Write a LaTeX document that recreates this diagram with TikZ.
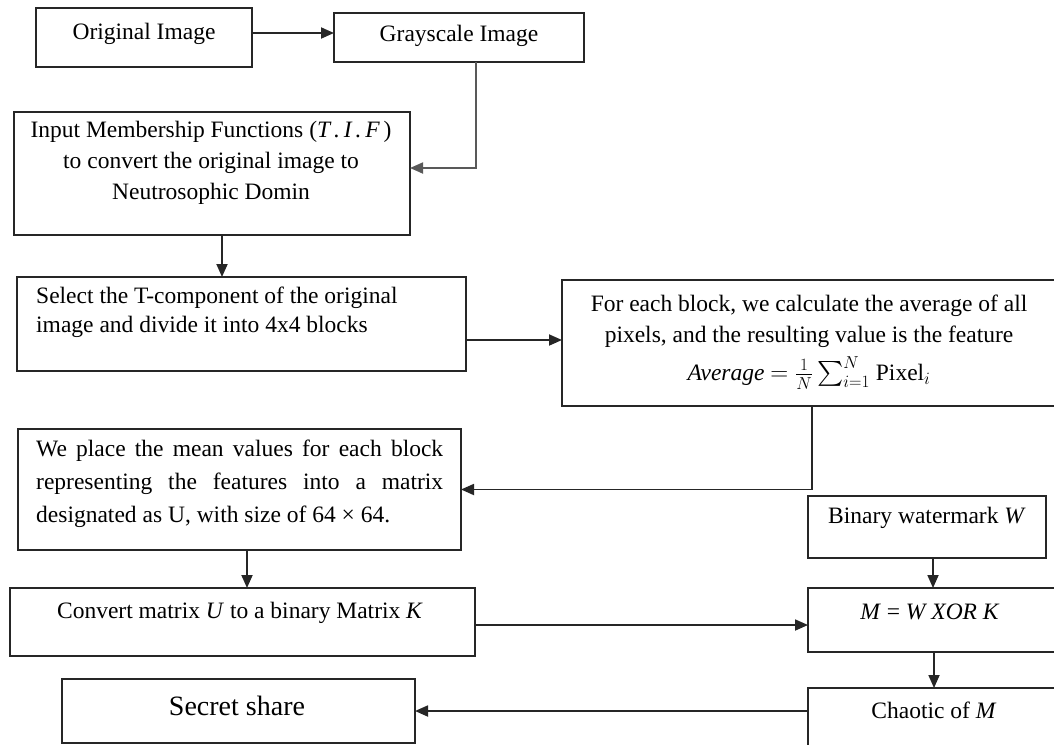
\documentclass[tikz,border=0pt]{standalone}
\usepackage{amsmath}
\usepackage{fontspec}
\setmainfont{Liberation Serif}
\usetikzlibrary{arrows.meta,calc}
\begin{document}
\begin{tikzpicture}[x=1pt,y=-1pt,
  box/.style={draw=black!85, line width=1.8pt, inner sep=0pt, outer sep=0pt, anchor=north west},
  txt/.style={inner sep=0pt, align=center, font=\fontsize{23.5}{31}\selectfont},
  arr/.style={draw=black!85, line width=1.8pt, -{Triangle[length=13pt,width=11pt]}}]
\clip (0,0) rectangle (1054,744);
\fill[white] (0,0) rectangle (1054,744);
% boxes
\node[box, minimum width=216pt, minimum height=59pt] (b1) at (36,8) {};
\node[box, minimum width=250pt, minimum height=49pt] (b2) at (334,13) {};
\node[box, minimum width=396pt, minimum height=123pt] (b3) at (14,112) {};
\node[box, minimum width=449pt, minimum height=94pt] (b4) at (17,277) {};
\node[box, minimum width=500pt, minimum height=126pt] (b5) at (562,280) {};
\node[box, minimum width=443pt, minimum height=121pt] (b6) at (18,429) {};
\node[box, minimum width=465pt, minimum height=68pt] (b7) at (10,588) {};
\node[box, minimum width=238pt, minimum height=62pt] (bw) at (808,496) {};
\node[box, minimum width=252pt, minimum height=64pt] (bm) at (808,588) {};
\node[box, minimum width=252pt, minimum height=72pt] (bc) at (808,688) {};
\node[box, minimum width=353pt, minimum height=64pt] (b8) at (62,679) {};
% texts
\node[txt] (t1) at (144,34) {Original Image};
\node[txt] (t2) at (459,36) {Grayscale Image};
\node[txt] (t3) at (211,163) {Input Membership Functions (\textit{T\,.\,I\,.\,F\,})\\to convert the original image to\\Neutrosophic Domin};
\node[txt, anchor=west, align=left, font=\fontsize{23.5}{29}\selectfont] (t4) at (36,312) {Select the T-component of the original\\image and divide it into 4x4 blocks};
\node[txt] (t5) at (809,342) {For each block, we calculate the average of all\\pixels, and the resulting value is the feature\\[7pt]\textit{Average} $=\frac{1}{N}\sum_{i=1}^{N}$ Pixel$_i$};
\node[txt, anchor=west, align=justify, text width=407pt, font=\fontsize{23.5}{33}\selectfont] (t6) at (36,484) {We place the mean values for each block\linebreak representing the features into a matrix\linebreak designated as U, with size of 64 × 64.};
\node[txt] (t7) at (240,613) {Convert matrix \textit{U} to a binary Matrix \textit{K}};
\node[txt] (tw) at (927,518) {Binary watermark \textit{W}};
\node[txt] (tm) at (930,612) {\textit{M} = \textit{W XOR K}};
\node[txt] (tc) at (934,710) {Chaotic of \textit{M}};
\node[txt, font=\fontsize{28}{33}\selectfont] (t8) at (237,706) {Secret share};
% connectors
\draw[arr] ([yshift=4.5pt]b1.east) -- ([yshift=4.5pt]b1.east -| b2.west);
\draw[arr, draw=black!65] ([xshift=17pt]b2.south) |- ([yshift=5.5pt]b3.east);
\draw[arr] ([xshift=10pt]b3.south) -- ([xshift=10pt]b3.south |- b4.north);
\draw[arr] ([yshift=-16pt]b4.east) -- ([yshift=-16pt]b4.east -| b5.west);
\draw[arr] (b5.south) |- (b6.east);
\draw[arr] ([xshift=7.5pt]b6.south) -- ([xshift=7.5pt]b6.south |- b7.north);
\draw[arr] ([yshift=-3pt]b7.east) -- ([yshift=-3pt]b7.east -| bm.west);
\draw[arr] ([xshift=6pt]bw.south) -- ([xshift=6pt]bw.south |- bm.north);
\draw[arr] (bm.south) -- (bc.north);
\draw[arr] (b8.east -| bc.west) -- (b8.east);
\end{tikzpicture}
\end{document}
